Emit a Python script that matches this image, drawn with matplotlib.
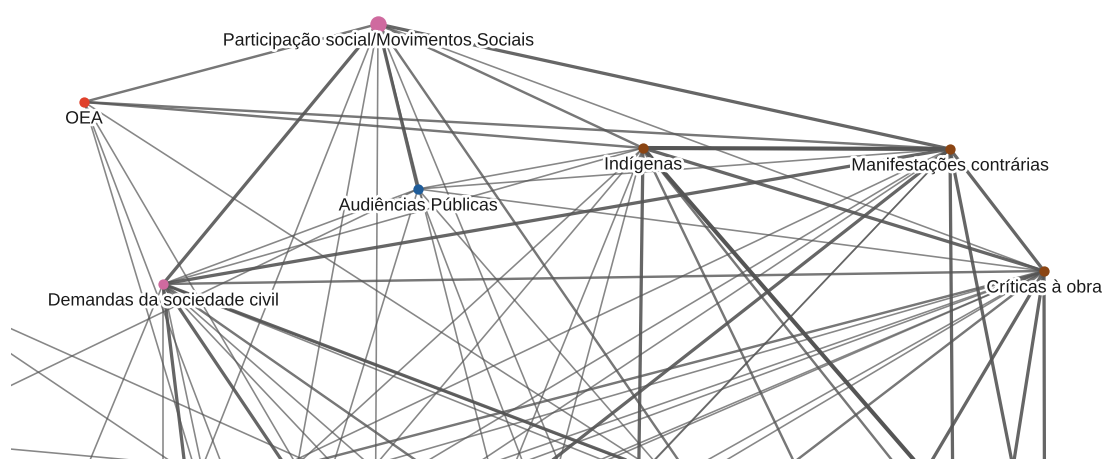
import matplotlib
matplotlib.use("Agg")
import matplotlib.pyplot as plt
import matplotlib.patheffects as pe

# visible themes (name, colour group, size)
nodes = ["Participação social/Movimentos Sociais", "OEA", "Indígenas",
         "Manifestações contrárias", "Audiências Públicas",
         "Demandas da sociedade civil", "Críticas à obra"]
node_group = ["pink", "red", "brown", "brown", "blue", "pink", "brown"]
node_size = [2, 1, 1, 1, 1, 1, 1]

P, OEA, IND, MAN, AUD, DEM, CRI = nodes

# layout (pixel space of the crop, y down); h* nodes lie outside the crop
layout = {
    P: (378, 25), OEA: (84, 103), IND: (643, 149), MAN: (950, 150),
    AUD: (418, 190), DEM: (163, 285), CRI: (1044, 272),
    "hA": (150, 600), "hB": (273, 600), "hC": (375, 600), "hD": (523, 600),
    "hE": (615, 600), "hF": (774, 600), "hH": (240, 620), "hJ": (700, 500),
    "hK": (163, 760), "hL": (220, 760), "hM": (255, 720), "hN": (460, 600),
    "hO": (900, 565), "hP": (1000, 560), "hQ": (150, 530), "hR": (635, 760),
    "hS": (955, 760), "h9": (1013, 468), "hT": (1045, 760), "hU": (-100, 440),
    "hW": (-60, 560), "hX": (915, 490), "hY": (-100, 280), "hZ": (20, 630),
    "hV": (560, 560), "hG": (330, 520), "hI": (780, 520), "hF2": (860, 600),
}

# co-occurrence edges (source, target, weight)
edges = [
    (P, OEA, 2), (P, DEM, 3), (P, AUD, 3), (P, IND, 2), (P, MAN, 3), (P, CRI, 1),
    (P, "hA", 1), (P, "hB", 1), (P, "hC", 1), (P, "hD", 1), (P, "hE", 1), (P, "hF", 2),
    (OEA, IND, 2), (OEA, MAN, 2), (OEA, "hB", 1), (OEA, "hH", 1), (OEA, "hC", 1),
    (OEA, "hJ", 1),
    (IND, MAN, 4), (IND, CRI, 3), (IND, AUD, 1), (IND, DEM, 1), (IND, "hR", 3),
    (IND, "hP", 4), (IND, "hN", 1), (IND, "hD", 1), (IND, "hG", 1), (IND, "hF2", 2),
    (IND, "hX", 2), (IND, "hA", 1),
    (MAN, DEM, 3), (MAN, CRI, 3), (MAN, AUD, 1), (MAN, "hS", 3), (MAN, "h9", 3),
    (MAN, "hQ", 1), (MAN, "hB", 1), (MAN, "hV", 1), (MAN, "hD", 1), (MAN, "hC", 3),
    (MAN, "hG", 1),
    (AUD, CRI, 1), (AUD, DEM, 1), (AUD, "hU", 1), (AUD, "hM", 1), (AUD, "hV", 1),
    (AUD, "hF", 1),
    (DEM, CRI, 2), (DEM, "hK", 1), (DEM, "hL", 3), (DEM, "hM", 1), (DEM, "hC", 3),
    (DEM, "hN", 1), (DEM, "hO", 3), (DEM, "hZ", 1), (DEM, "hE", 2), (DEM, "hI", 1),
    (DEM, "hJ", 1), (DEM, "hD", 1),
    (CRI, "hT", 3), (CRI, "h9", 3), (CRI, "hX", 3), (CRI, "hA", 1), (CRI, "hQ", 1),
    (CRI, "hG", 1), (CRI, "hV", 1), (CRI, "hN", 1), (CRI, "hH", 1), (CRI, "hB", 1),
    (CRI, "hE", 2), (CRI, "hW", 2),
    ("hY", "hC", 1), ("hU", "hI", 1), ("hW", "hD", 1), ("hY", "hE", 1),
]

colours = {"pink": "#cf6a9f", "red": "#e0412b", "brown": "#8b4513", "blue": "#1f5c99"}

fig = plt.figure(figsize=(11.04, 4.6), dpi=100)
ax = fig.add_axes([11 / 1104, 0, 1 - 11 / 1104, 1])
ax.set_xlim(11, 1104)
ax.set_ylim(460, 0)
ax.axis("off")

for a, b, w in edges:
    (x1, y1), (x2, y2) = layout[a], layout[b]
    ax.plot([x1, x2], [y1, y2], color="#555555", lw=0.55 + 0.6 * w,
            alpha=0.6 + 0.1 * w, solid_capstyle="butt", zorder=1)

for name, grp, s in zip(nodes, node_group, node_size):
    x, y = layout[name]
    ax.scatter([x], [y], s=55 if s == 1 else 140, color=colours[grp], zorder=3,
               linewidths=0)
    ax.text(x, y + 17, name, ha="center", va="center", fontsize=12.8,
            family=["Liberation Sans", "DejaVu Sans"], color="#1a1a1a", zorder=4,
            path_effects=[pe.withStroke(linewidth=4, foreground="white")])

fig.savefig("out.png", dpi=100)
